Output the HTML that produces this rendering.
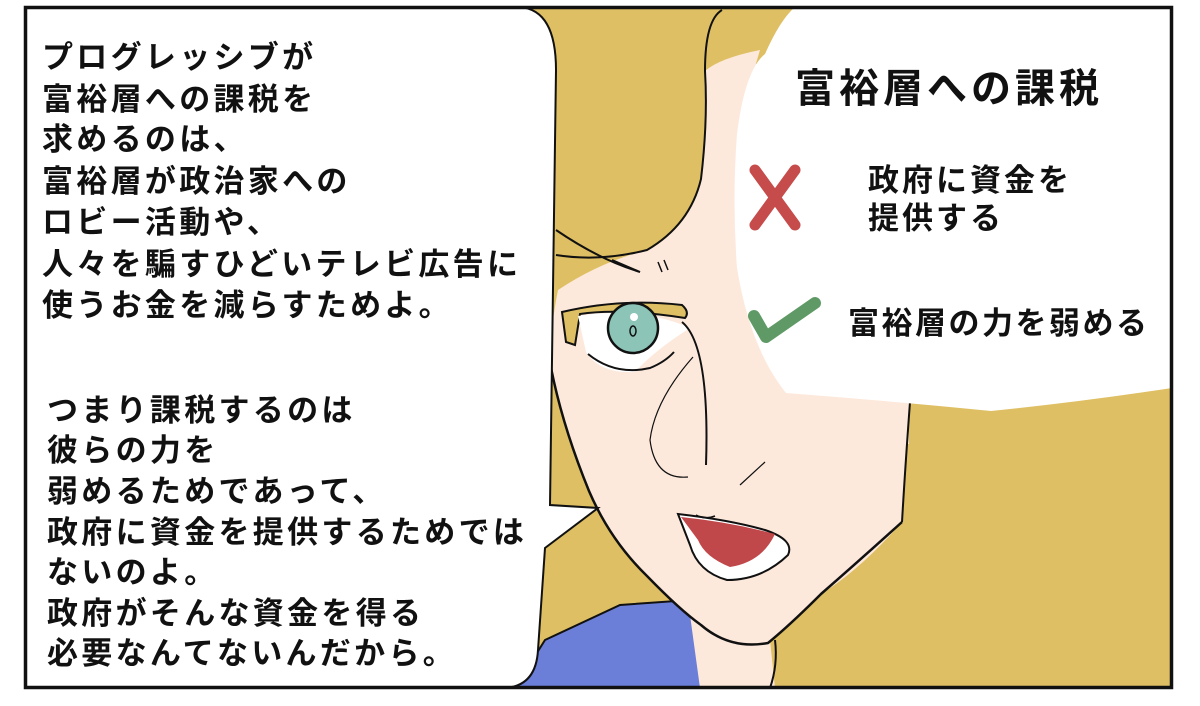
<!DOCTYPE html>
<html><head><meta charset="utf-8"><style>
html,body{margin:0;padding:0;background:#fff;}
svg{display:block;}
text{font-family:"Liberation Sans","Noto Sans CJK JP",sans-serif;font-weight:bold;fill:#111;}
</style></head><body>
<svg width="1200" height="706" viewBox="0 0 1200 706" xmlns="http://www.w3.org/2000/svg">
<rect x="0" y="0" width="1200" height="706" fill="#fff"/>
<rect x="25" y="7" width="1147" height="681" fill="#dfbf63"/>
<path d="M515,688 L545,640 L620,605 L690,600 L705,688 Z" fill="#6b7fd9" stroke="#111" stroke-width="2"/>
<rect x="722" y="64" width="187" height="380" fill="#fde9dc"/>
<path d="M558,290 Q600,262 647,250 Q690,225 701,179 Q708,120 705,71 Q720,58 760,50 L735,134 L730,268 L745,405 L910,415 Q905,470 902,522 Q860,570 821,594 Q790,625 768,643 Q730,650 701,625 Q660,590 647,576 Q610,540 589,491 Q560,420 549,357 Q552,320 558,290 Z" fill="#fde9dc"/>
<path d="M690,615 Q730,648 770,640 L775,688 L700,688 Z" fill="#fde9dc"/>
<path d="M549,357 Q560,420 589,491 Q610,540 647,576 Q680,610 701,625 Q730,650 768,643 Q790,625 821,594 Q860,560 902,522" fill="none" stroke="#111" stroke-width="2.5"/>
<path d="M910,402 Q905,470 902,522" fill="none" stroke="#111" stroke-width="2"/>
<path d="M775,640 Q778,665 770,688" fill="none" stroke="#111" stroke-width="2"/>
<path d="M556,230 Q600,260 640,272 L612,260" fill="none" stroke="#111" stroke-width="2"/>
<path d="M556,255 Q600,262 647,250 Q690,225 701,179 Q708,120 705,71" fill="none" stroke="#111" stroke-width="2"/>
<path d="M705,71 Q705,20 722,10" fill="none" stroke="#111" stroke-width="2"/>
<path d="M658,262 L662,272 M664,260 L668,270" stroke="#111" stroke-width="1.5"/>
<path d="M562,312 Q620,298 682,305 Q690,312 685,318 Q620,308 580,314 L575,345 L566,342 Z" fill="#dfbf63" stroke="#111" stroke-width="2"/>
<path d="M578,316 Q640,306 690,328 Q655,350 635,372 Q600,374 586,352 Z" fill="#fff"/>
<path d="M588,354 Q615,376 650,368 Q665,362 674,352" fill="none" stroke="#111" stroke-width="2"/>
<circle cx="633" cy="328" r="25" fill="#8cc4b8" stroke="#111" stroke-width="2.5"/>
<circle cx="634" cy="317" r="4" fill="#fff"/>
<ellipse cx="633" cy="331" rx="3" ry="5" fill="none" stroke="#111" stroke-width="1.5"/>
<path d="M682,322 Q710,345 706,465" fill="none" stroke="#111" stroke-width="2"/>
<path d="M693,357 Q655,400 650,440 Q655,480 688,477" fill="none" stroke="#111" stroke-width="1.2"/>
<path d="M740,485 L765,462" fill="none" stroke="#111" stroke-width="1.2"/>
<path d="M678,514 Q730,520 765,530 Q795,540 788,555 Q762,580 727,580 Q698,572 690,545 Z" fill="#fff" stroke="#111" stroke-width="2"/>
<path d="M681,517 Q730,522 775,534 Q762,562 730,567 Q705,557 698,540 Z" fill="#c0474a"/>
<path d="M696,515 Q705,520 715,516" fill="none" stroke="#111" stroke-width="1.5"/>
<path d="M25,7 L520,7 Q556,10 556,70 L550,505 L598,508 L545,548 L538,650 Q536,686 505,688 L25,688 Z" fill="#fff" stroke="#111" stroke-width="2"/>
<path d="M795,7 L1172,7 L1172,388 Q1080,402 991,411 Q902,402 786,393 Q750,348 737,268 Q732,200 737,134 Q745,70 765,54 Q780,20 795,7 Z" fill="#fff"/>
<rect x="25.5" y="7.5" width="1146" height="680" fill="none" stroke="#111" stroke-width="3.5"/>
<g font-size="31" letter-spacing="3.3">
<text x="42" y="68">プログレッシブが</text>
<text x="42" y="110">富裕層への課税を</text>
<text x="42" y="150">求めるのは、</text>
<text x="42" y="192">富裕層が政治家への</text>
<text x="42" y="233">ロビー活動や、</text>
<text x="42" y="275">人々を騙すひどいテレビ広告に</text>
<text x="42" y="316">使うお金を減らすためよ。</text>
<text x="47" y="421">つまり課税するのは</text>
<text x="47" y="461">彼らの力を</text>
<text x="47" y="502">弱めるためであって、</text>
<text x="47" y="543">政府に資金を提供するためでは</text>
<text x="47" y="583">ないのよ。</text>
<text x="47" y="624">政府がそんな資金を得る</text>
<text x="47" y="664">必要なんてないんだから。</text>
</g>
<text x="795" y="102" font-size="40" letter-spacing="4">富裕層への課税</text>
<text x="868" y="191" font-size="31" letter-spacing="3">政府に資金を</text>
<text x="868" y="229" font-size="31" letter-spacing="3">提供する</text>
<text x="848" y="334" font-size="31" letter-spacing="2.5">富裕層の力を弱める</text>
<path d="M755,170 L795,225 M795,170 L755,225" stroke="#c64b4b" stroke-width="11" stroke-linecap="round"/>
<path d="M754,316 L766,337 L815,303" fill="none" stroke="#5f9a66" stroke-width="12" stroke-linecap="round" stroke-linejoin="round"/>
</svg>
</body></html>
